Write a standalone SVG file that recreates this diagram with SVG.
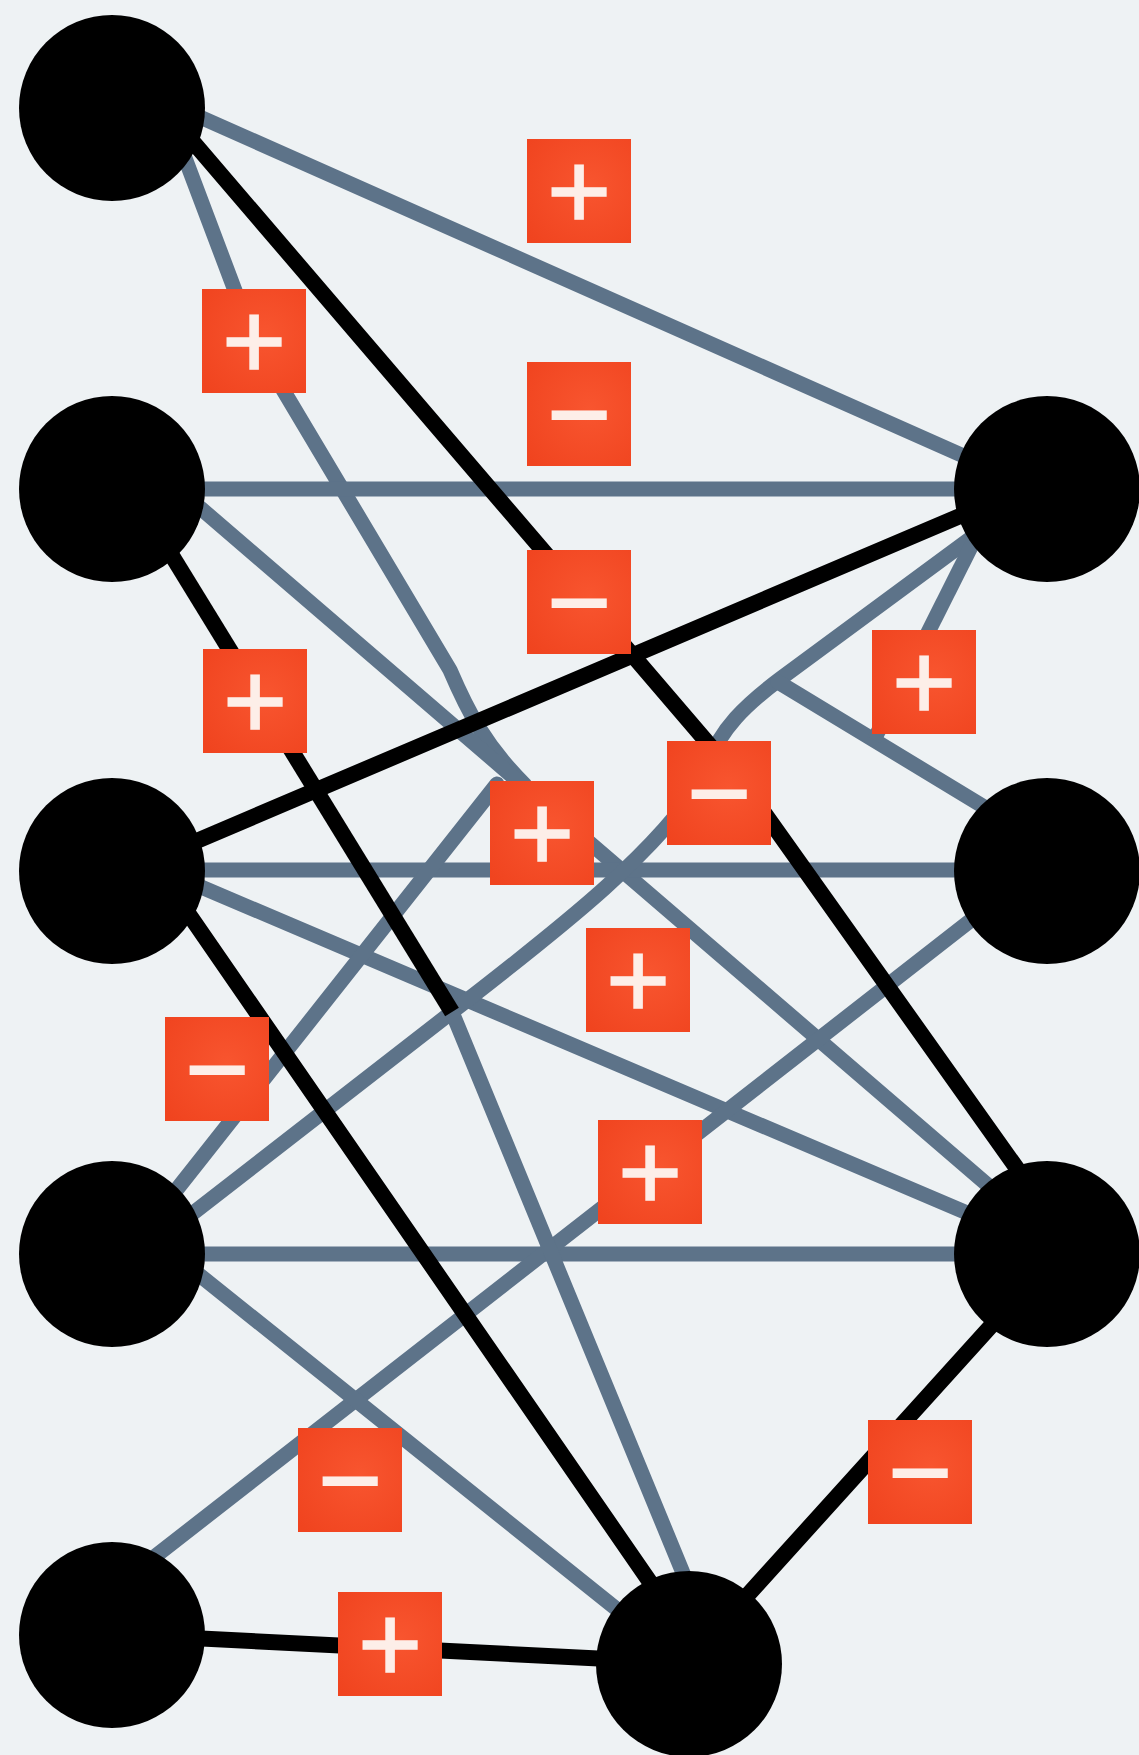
<svg xmlns="http://www.w3.org/2000/svg" width="1139" height="1755" viewBox="0 0 1139 1755">
  <style>
    .bg { fill: #eef2f4; }
    .g { fill: none; stroke: #5d7389; stroke-width: 15; stroke-linecap: round; stroke-linejoin: round; }
    .gb { fill: none; stroke: #5d7389; stroke-width: 15; stroke-linecap: butt; }
    .k { fill: none; stroke: #000; stroke-width: 16; stroke-linecap: round; stroke-linejoin: round; }
    .kb { fill: none; stroke: #000; stroke-width: 16; stroke-linecap: butt; }
    .node { fill: #000; }
    .box { fill: url(#boxFill); }
    .sign { font-family: "Liberation Sans", Arial, sans-serif; font-weight: 400; font-size: 110px; fill: #fdeee8; stroke: #fdeee8; stroke-width: 1.6; text-anchor: middle; }
  </style>
  <defs>
    <radialGradient id="boxFill" cx="0.6" cy="0.45" r="0.75">
      <stop offset="0" stop-color="#f8552f"/>
      <stop offset="1" stop-color="#f0441f"/>
    </radialGradient>
  </defs>

  <rect class="bg" x="0" y="0" width="1139" height="1755"/>

  <!-- connectors: slate links first, black links over them -->
  <g id="connectors">
    <path class="g" d="M112,78 L1047,493"/>
    <path class="g" d="M165,105 L254,341 L450,670 C468,712 485,745 525,785"/>
    <path class="g" d="M112,489 H1047"/>
    <path class="g" d="M112,432 L1047,1236"/>
    <path class="g" d="M112,870 H1047"/>
    <path class="g" d="M112,849 L1047,1247"/>
    <path class="g" d="M112,1254 H1047"/>
    <path class="g" d="M140,1236 L497,784"/>
    <path class="g" d="M112,1276 L470,998 C560,928 660,850 705,775 C715,730 752,700 780,679 L1047,482"/>
    <path class="g" d="M778,682 L1047,845"/>
    <path class="gb" d="M1000,489 L874,740"/>
    <path class="g" d="M112,1590 L1047,861"/>
    <path class="g" d="M112,1205 L689,1667"/>
    <path class="g" d="M452,1012 L690,1590"/>

    <path class="k" d="M164,108 L748,790 L1050,1215"/>
    <path class="kb" d="M131,489 L452,1012"/>
    <path class="k" d="M112,877 L1047,479"/>
    <path class="k" d="M159,871 L690,1640"/>
    <path class="k" d="M112,1634 L689,1663"/>
    <path class="k" d="M689,1660 L1047,1264"/>
  </g>

  <!-- sign labels -->
  <g id="label-1"><rect class="box" x="527" y="139" width="104" height="104"/><text class="sign" x="579" y="229">+</text></g>
  <g id="label-2"><rect class="box" x="202" y="289" width="104" height="104"/><text class="sign" x="254" y="379">+</text></g>
  <g id="label-3"><rect class="box" x="527" y="362" width="104" height="104"/><text class="sign" x="579" y="452">−</text></g>
  <g id="label-4"><rect class="box" x="527" y="550" width="104" height="104"/><text class="sign" x="579" y="640">−</text></g>
  <g id="label-5"><rect class="box" x="203" y="649" width="104" height="104"/><text class="sign" x="255" y="739">+</text></g>
  <g id="label-6"><rect class="box" x="667" y="741" width="104" height="104"/><text class="sign" x="719" y="831">−</text></g>
  <g id="label-7"><rect class="box" x="872" y="630" width="104" height="104"/><text class="sign" x="924" y="720">+</text></g>
  <g id="label-8"><rect class="box" x="490" y="781" width="104" height="104"/><text class="sign" x="542" y="871">+</text></g>
  <g id="label-9"><rect class="box" x="586" y="928" width="104" height="104"/><text class="sign" x="638" y="1018">+</text></g>
  <g id="label-10"><rect class="box" x="165" y="1017" width="104" height="104"/><text class="sign" x="217" y="1107">−</text></g>
  <g id="label-11"><rect class="box" x="598" y="1120" width="104" height="104"/><text class="sign" x="650" y="1210">+</text></g>
  <g id="label-12"><rect class="box" x="298" y="1428" width="104" height="104"/><text class="sign" x="350" y="1518">−</text></g>
  <g id="label-13"><rect class="box" x="338" y="1592" width="104" height="104"/><text class="sign" x="390" y="1682">+</text></g>
  <g id="label-14"><rect class="box" x="868" y="1420" width="104" height="104"/><text class="sign" x="920" y="1510">−</text></g>

  <!-- nodes -->
  <g id="node-a"><circle class="node" cx="112" cy="108" r="93"/></g>
  <g id="node-b"><circle class="node" cx="112" cy="489" r="93"/></g>
  <g id="node-c"><circle class="node" cx="112" cy="871" r="93"/></g>
  <g id="node-d"><circle class="node" cx="112" cy="1254" r="93"/></g>
  <g id="node-e"><circle class="node" cx="112" cy="1635" r="93"/></g>
  <g id="node-r1"><circle class="node" cx="1047" cy="489" r="93"/></g>
  <g id="node-r2"><circle class="node" cx="1047" cy="871" r="93"/></g>
  <g id="node-r3"><circle class="node" cx="1047" cy="1254" r="93"/></g>
  <g id="node-f"><circle class="node" cx="689" cy="1664" r="93"/></g>
</svg>
